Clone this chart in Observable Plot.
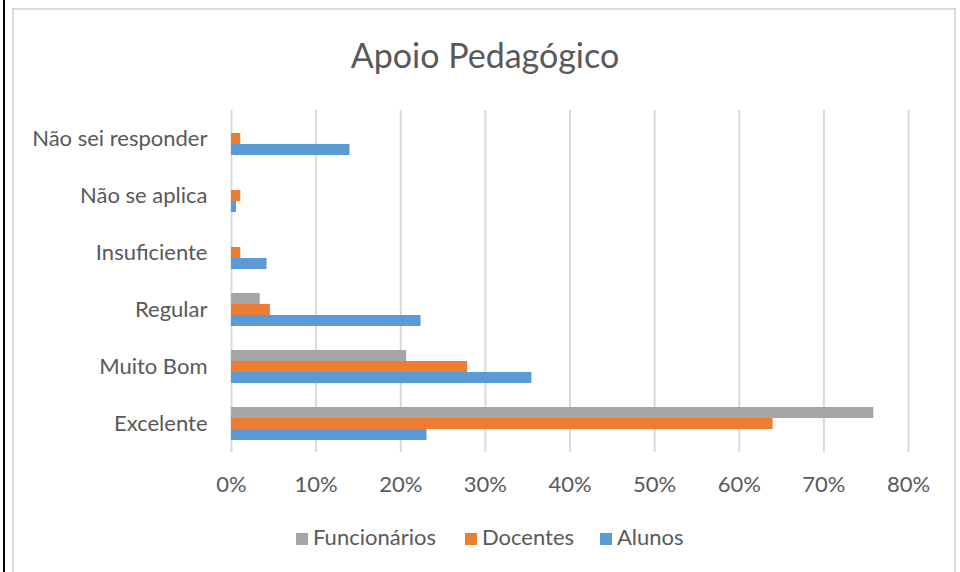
<!DOCTYPE html>
<html>
<head>
<meta charset="utf-8">
<script src="https://cdn.jsdelivr.net/npm/d3@7"></script>
<script src="https://cdn.jsdelivr.net/npm/@observablehq/plot@0.6"></script>
<style>
  html, body { margin: 0; padding: 0; background: #fff; }
  #wrap { position: relative; width: 960px; height: 572px; overflow: hidden; font-family: Lato, "Open Sans", sans-serif; color: #595959; }
  #blackline { position: absolute; left: 3px; top: 0; width: 2px; height: 572px; background: #000; }
  #frame { position: absolute; left: 12px; top: 8px; width: 944px; height: 600px; border: 2px solid #d9d9d9; box-sizing: border-box; }
  #title { position: absolute; left: 0; width: 970px; top: 34px; text-align: center; font-size: 34px; line-height: 42px; }
  #chart { position: absolute; left: 0; top: 0; }
  #legend { position: absolute; top: 524px; left: 0; width: 960px; height: 26px; }
  .item { position: absolute; top: 0; font-size: 22px; line-height: 26px; white-space: nowrap; }
  .sw { display: inline-block; width: 12px; height: 12px; margin-right: 5px; vertical-align: 0px; }
</style>
</head>
<body>
<div id="wrap">
  <div id="blackline"></div>
  <div id="frame"></div>
  <div id="title">Apoio Pedagógico</div>
  <div id="chart"></div>
  <div id="legend"></div>
</div>
<script>
const categories = ["Não sei responder", "Não se aplica", "Insuficiente", "Regular", "Muito Bom", "Excelente"];
const seriesNames = ["Funcionários", "Docentes", "Alunos"];
const seriesColors = ["#A5A5A5", "#ED7D31", "#5B9BD5"];
const funcionarios = [0, 0, 0, 3.4, 20.7, 75.9];
const docentes = [1.1, 1.1, 1.1, 4.6, 27.9, 64.0];
const alunos = [14.0, 0.6, 4.2, 22.4, 35.5, 23.1];
const xTicks = [0, 0.1, 0.2, 0.3, 0.4, 0.5, 0.6, 0.7, 0.8];

const seriesValues = [funcionarios, docentes, alunos];
const data = [];
categories.forEach((c, i) => {
  seriesNames.forEach((s, j) => {
    data.push({category: c, series: s, value: seriesValues[j][i] / 100});
  });
});

const chart = Plot.plot({
  width: 960,
  height: 572,
  marginLeft: 231,
  marginRight: 52,
  marginTop: 108,
  marginBottom: 118,
  style: {fontFamily: "Lato, 'Open Sans', sans-serif", fontSize: "22px", color: "#595959", background: "transparent"},
  x: {domain: [0, 0.8], ticks: xTicks, tickFormat: d3.format(".0%"), tickSize: 0, tickPadding: 24, label: null},
  fy: {domain: categories, padding: 0, tickSize: 0, tickPadding: 24, label: null},
  y: {domain: seriesNames, paddingInner: 0, paddingOuter: 1, axis: null},
  color: {domain: seriesNames, range: seriesColors},
  marks: [
    Plot.ruleX(xTicks, {stroke: "#d9d9d9", strokeWidth: 2}),
    Plot.barX(data, {x: "value", y: "series", fy: "category", fill: "series"})
  ]
});
document.getElementById("chart").appendChild(chart);

const legend = document.getElementById("legend");
const lefts = [296, 465, 600];
seriesNames.forEach((s, i) => {
  const el = document.createElement("div");
  el.className = "item";
  el.style.left = lefts[i] + "px";
  el.innerHTML = `<span class="sw" style="background:${seriesColors[i]}"></span>${s}`;
  legend.appendChild(el);
});
</script>
</body>
</html>
